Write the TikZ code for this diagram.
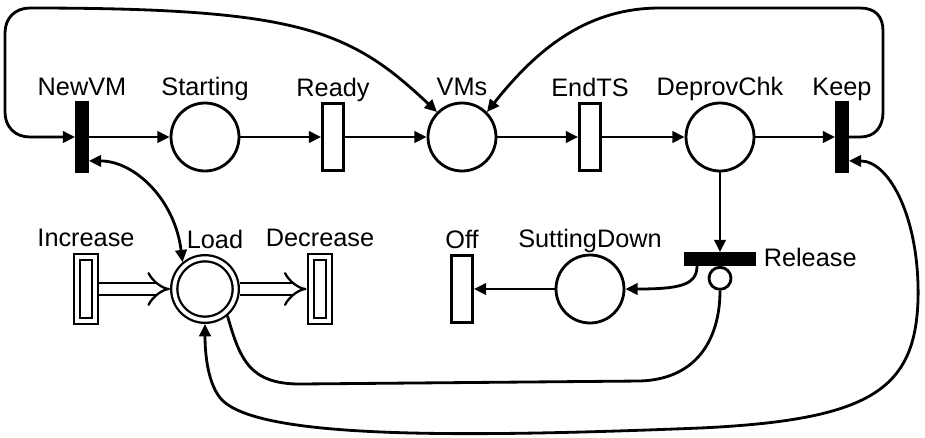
\documentclass[tikz,border=0pt]{standalone}
\usepackage{fontspec}
\setmainfont{Liberation Sans}
\usetikzlibrary{arrows.meta,positioning}
\tikzset{place/.style = {draw=black,circle,line width=1.6pt,minimum size=1.36cm,inner sep=0pt}}
\tikzset{immed/.style = {draw=black,fill=black,rectangle,line width=1.6pt,minimum width=0.22cm,minimum height=1.38cm,inner sep=0pt}}
\tikzset{relbar/.style = {draw=black,fill=black,rectangle,line width=1.6pt,minimum width=1.4cm,minimum height=0.22cm,inner sep=0pt}}
\tikzset{timed/.style = {draw=black,fill=white,rectangle,line width=1.6pt,minimum width=0.42cm,minimum height=1.34cm,inner sep=0pt}}
\tikzset{fluidplace/.style = {draw=black,circle,line width=1.3pt,double,double distance=2.2pt,minimum size=1.23cm,inner sep=0pt,outer sep=2.4pt}}
\tikzset{fluidtrans/.style = {draw=black,rectangle,line width=1.3pt,double,double distance=2.2pt,minimum width=0.37cm,minimum height=1.29cm,inner sep=0pt,outer sep=2.4pt}}
\tikzset{inhcirc/.style = {draw=black,fill=white,circle,line width=1.6pt,minimum size=0.44cm,inner sep=0pt}}
\tikzset{arrow/.style = {-{Triangle[length=7pt,width=6.5pt]},line width=1.6pt}}
\tikzset{biarrow/.style = {{Triangle[length=7pt,width=6.5pt]}-{Triangle[length=7pt,width=6.5pt]},line width=1.6pt}}
\tikzset{flow/.style = {-Implies,line width=1.3pt,double,double distance=5.5pt}}
\tikzset{inhib/.style = {line width=1.6pt}}
\tikzset{every label/.style = {inner sep=1pt,text depth=0.22em}}

\begin{document}
\begin{tikzpicture}[x=0.02cm,y=-0.02cm,font=\fontsize{14.4}{17}\selectfont]
		\useasboundingbox (0,0) rectangle (925,437);
		\node[immed, label=above:NewVM] (newvm) at (82,137) {};
		\node[place, label=above:Starting] (starting) at (205,137) {};
		\node[timed, label=above:Ready] (ready) at (333,137) {};
		\node[place, label=above:VMs] (vms) at (462,137) {};
		\node[timed, label=above:EndTS] (endts) at (590,137) {};
		\node[place, label=above:DeprovChk] (deprov) at (720,137) {};
		\node[immed, label=above:Keep] (keep) at (842,137) {};
		\node[fluidtrans, label=above:Increase] (increase) at (86,289) {};
		\node[fluidplace, label={[xshift=0.2cm]above:Load}] (load) at (205,289) {};
		\node[fluidtrans, label=above:Decrease] (decrease) at (320,289) {};
		\node[timed, label=above:Off] (off) at (462,289) {};
		\node[place, label=above:SuttingDown] (sdown) at (590,289) {};
		\node[relbar, label={[label distance=3pt]right:Release}] (release) at (720,259) {};
		\node[inhcirc, below=0pt of release] (relinh) {};
		\draw[arrow] (newvm) -- (starting);
		\draw[arrow] (starting) -- (ready);
		\draw[arrow] (ready) -- (vms);
		\draw[arrow] (vms) -- (endts);
		\draw[arrow] (endts) -- (deprov);
		\draw[arrow] (deprov) -- (keep);
		\draw[arrow] (deprov) -- (release);
		\draw[arrow] (sdown) -- (off);
		\draw[arrow] ([xshift=-0.46cm]release.south) .. controls (697,285) and (680,289) .. (sdown.east);
		\draw[flow] (increase) -- (load);
		\draw[flow] (load) -- (decrease);
		% loops over the top
		\draw[biarrow] (newvm.west) -- (30,137) .. controls (15,137) and (5,127) .. (5,112) -- (5,33)
			.. controls (5,18) and (15,8) .. (30,8) .. controls (300,8) and (350,30) .. (vms.135);
		\draw[arrow] (keep.east) -- (860,137) .. controls (875,137) and (883,127) .. (883,112) -- (883,31)
			.. controls (883,16) and (875,8) .. (860,8) -- (660,8) .. controls (590,8) and (540,45) .. (vms.45);
		% arcs to the fluid place
		\draw[biarrow] ([yshift=0.24cm]newvm.south east) .. controls (135,161) and (175,200) .. (load.130);
		\draw[biarrow] ([yshift=0.24cm]keep.south east) .. controls (890,161) and (920,220) .. (918,300)
			.. controls (915,390) and (870,420) .. (700,428) .. controls (450,438) and (260,438) .. (222,400)
			.. controls (208,385) and (205,355) .. (load.south);
		\draw[inhib] (load.-50) .. controls (240,360) and (250,384) .. (300,384) -- (640,381)
			.. controls (700,379) and (720,335) .. (relinh.south);
	\end{tikzpicture}
\end{document}
